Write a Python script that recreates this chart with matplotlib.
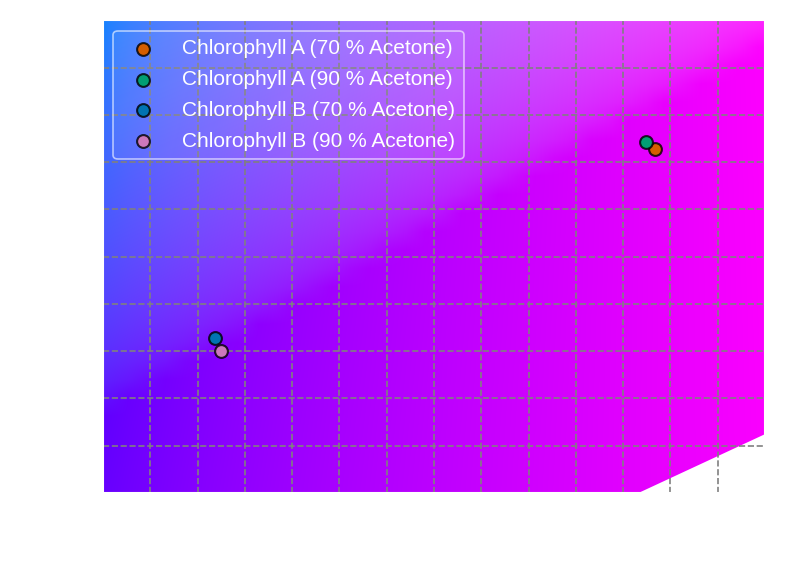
import numpy as np
import matplotlib
matplotlib.use("Agg")
import matplotlib.pyplot as plt
from matplotlib.patches import Polygon

plt.rcParams['font.family'] = ['Liberation Sans', 'DejaVu Sans']

# CIE 1931 xy chromaticities of the samples
labels = ['Chlorophyll A (70 % Acetone)', 'Chlorophyll A (90 % Acetone)',
          'Chlorophyll B (70 % Acetone)', 'Chlorophyll B (90 % Acetone)']
cie_x = [0.2967, 0.2948, 0.2037, 0.2050]
cie_y = [0.1327, 0.1342, 0.0928, 0.0900]
colors = ['#d55e00', '#029e73', '#0173b2', '#cc78bc']

# coarse spectral locus (CIE 1931 2 deg), closed by the line of purples
locus_x = [0.1756, 0.1440, 0.1241, 0.0913, 0.0454, 0.0082, 0.0139, 0.0743,
           0.2296, 0.3731, 0.5125, 0.6270, 0.6915, 0.7347]
locus_y = [0.0053, 0.0297, 0.0578, 0.1327, 0.2950, 0.5384, 0.7502, 0.8338,
           0.7543, 0.6245, 0.4866, 0.3725, 0.3083, 0.2653]

xlim = (0.18, 0.32)
ylim = (0.06, 0.16)

# diagram colours on a 256 x 256 grid over the unit square (Y = 1, sRGB)
n = 256
gx, gy = np.meshgrid(np.linspace(0, 1, n), np.linspace(0, 1, n))
gy = np.maximum(gy, 1e-4)
X = gx / gy
Z = (1 - gx - gy) / gy
M = np.array([[3.2406, -1.5372, -0.4986],
              [-0.9689, 1.8758, 0.0415],
              [0.0557, -0.2040, 1.0570]])
XYZ = np.stack([X, np.ones_like(X), Z], axis=-1)
RGB = XYZ @ M.T
RGB = RGB / np.maximum(RGB.max(axis=-1, keepdims=True), 1e-6)
RGB = np.clip(RGB, 0, 1)
RGB = np.where(RGB <= 0.0031308, 12.92 * RGB, 1.055 * RGB ** (1 / 2.4) - 0.055)

fig = plt.figure(figsize=(8, 5.77), dpi=100)
ax = fig.add_axes([0.12875, 0.1456, 0.8275, 0.8190])

img = ax.imshow(RGB, origin='lower', extent=[0, 1, 0, 1],
                interpolation='bilinear', aspect='auto', zorder=0)
locus = Polygon(np.column_stack([locus_x, locus_y]), closed=True,
                facecolor='none', edgecolor='none', transform=ax.transData)
ax.add_patch(locus)
img.set_clip_path(locus)

for x, y, c, lab in zip(cie_x, cie_y, colors, labels):
    ax.scatter(x, y, s=85, color=c, edgecolors=(0, 0, 0, 0.8), linewidths=1.5,
               label=lab, zorder=3)

ax.set_xlim(xlim)
ax.set_ylim(ylim)
ax.set_xticks(np.arange(0.18, 0.3201, 0.01))
ax.set_yticks(np.arange(0.06, 0.1601, 0.01))
ax.grid(True, linestyle='--', color='#808080', linewidth=1.2)
ax.set_axisbelow(False)
ax.tick_params(colors='white', labelcolor='white')
for s in ax.spines.values():
    s.set_color('white')
    s.set_linewidth(1.5)
    s.set_zorder(4)
ax.set_xlabel('CIE x', color='white')
ax.set_ylabel('CIE y', color='white')

leg = ax.legend(loc='upper left', fontsize=15, handletextpad=0.9,
                labelspacing=0.57, labelcolor='white', fancybox=True)
frame = leg.get_frame()
frame.set_alpha(None)
frame.set_facecolor((1, 1, 1, 0.07))
frame.set_edgecolor((1, 1, 1, 0.6))
frame.set_linewidth(1.2)

plt.savefig('out.png', dpi=100)
